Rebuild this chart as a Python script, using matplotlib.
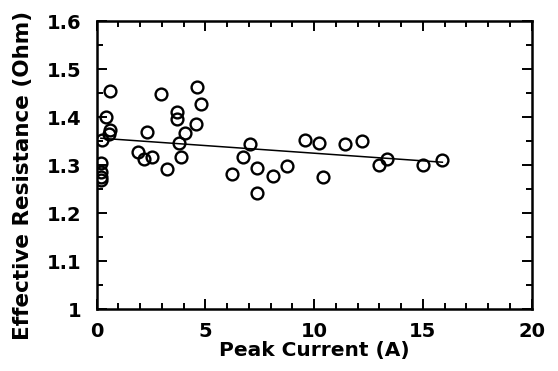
import numpy as np
import matplotlib
matplotlib.use("Agg")
import matplotlib.pyplot as plt
from matplotlib.ticker import MultipleLocator

current = [0.19, 0.19, 0.19, 0.19, 0.24, 0.44, 0.62, 0.62, 0.57,
           1.92, 2.20, 2.31, 2.54, 2.97, 3.23, 3.72, 3.72, 3.81, 3.90,
           4.07, 4.59, 4.60, 4.80, 6.21, 6.75, 7.06, 7.36, 7.36, 8.10,
           8.74, 9.59, 10.23, 10.40, 11.43, 12.19, 13.00, 13.37, 15.03, 15.90]
resistance = [1.305, 1.286, 1.276, 1.269, 1.353, 1.400, 1.455, 1.373, 1.365,
              1.328, 1.312, 1.369, 1.317, 1.449, 1.292, 1.411, 1.396, 1.346, 1.317,
              1.366, 1.385, 1.462, 1.427, 1.281, 1.317, 1.344, 1.294, 1.241, 1.277,
              1.298, 1.352, 1.347, 1.276, 1.345, 1.351, 1.300, 1.313, 1.300, 1.310]

# linear fit line endpoints
fit_x = [0.2, 15.9]
fit_y = [1.356, 1.306]

x_ticks = [0, 5, 10, 15, 20]
y_ticks = [1.0, 1.1, 1.2, 1.3, 1.4, 1.5, 1.6]
y_ticklabels = ["1", "1.1", "1.2", "1.3", "1.4", "1.5", "1.6"]

plt.rcParams['font.family'] = ['DejaVu Sans']
plt.rcParams['font.weight'] = 'bold'

fig = plt.figure(figsize=(5.58, 3.71), dpi=100)
ax = fig.add_axes([0.173, 0.167, 0.7796, 0.776])

ax.plot(current, resistance, 'o', mfc='none', mec='black', ms=8.5, mew=1.7)
ax.plot(fit_x, fit_y, '-', color='black', lw=1.1)

ax.set_xlim(0, 20)
ax.set_ylim(1.0, 1.6)
ax.set_xticks(x_ticks)
ax.set_yticks(y_ticks)
ax.set_yticklabels(y_ticklabels)
ax.xaxis.set_minor_locator(MultipleLocator(1))
ax.yaxis.set_minor_locator(MultipleLocator(0.05))

ax.tick_params(which='both', direction='in', top=True, right=True, width=1.4,
               labelsize=14)
ax.tick_params(axis='y', pad=11)
ax.tick_params(axis='x', pad=9)
ax.tick_params(which='major', length=7)
ax.tick_params(which='minor', length=4)
for lbl in ax.get_xticklabels() + ax.get_yticklabels():
    lbl.set_fontweight('bold')

for sp in ax.spines.values():
    sp.set_linewidth(1.8)

ax.set_xlabel("Peak Current (A)", fontsize=14.5, fontweight='bold', labelpad=0)
ax.set_ylabel("Effective Resistance (Ohm)", fontsize=15.5, fontweight='bold')
ax.yaxis.set_label_coords(-0.147, 0.465)

fig.savefig("out.png", dpi=100)
